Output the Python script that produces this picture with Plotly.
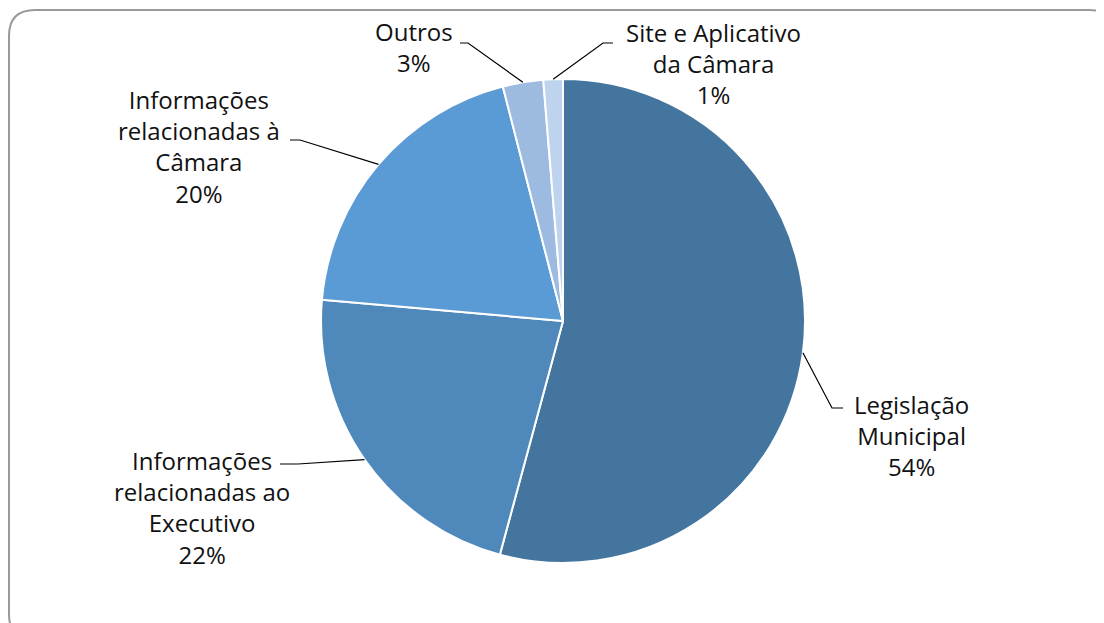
import math
import plotly.graph_objects as go

OFF = 8  # page body margin
W, H = 1104 - OFF, 623 - OFF

# Data
categories = ["Legislação<br>Municipal", "Informações<br>relacionadas ao<br>Executivo",
              "Informações<br>relacionadas à<br>Câmara", "Outros", "Site e Aplicativo<br>da Câmara"]
values = [54.2, 22.2, 19.6, 2.7, 1.3]
pct_labels = ["54%", "22%", "20%", "3%", "1%"]
colors = ["#44759f", "#4f89bc", "#5b9bd5", "#9dbbe1", "#bdd3ee"]

# Layout (screen pixel positions)
cx, cy, r = 563, 321, 242
label_pos = [(911, 435), (202, 507), (199, 146), (414, 47), (713, 63)]
elbows = [((832, 408), (843, 408)), ((298, 464), (280, 464)), ((300, 140), (290, 140)),
          ((468, 43), (460, 43)), ((603, 43), (613, 43))]

def px(x):
    return (x - OFF) / W

def py(y):
    return 1 - (y - OFF) / H

fig = go.Figure(go.Pie(
    labels=categories, values=values, sort=False, direction="clockwise", rotation=0,
    marker=dict(colors=colors, line=dict(color="white", width=2)),
    textinfo="none", hoverinfo="label+percent", showlegend=False,
    domain=dict(x=[px(cx - r), px(cx + r)], y=[py(cy + r), py(cy - r)]),
))

shapes = []
# rounded border
x0, y0, x1, y1, rc = 9, 10, 1115, 640, 26
path = (f"M {px(x0)},{py(y0 + rc)} Q {px(x0)},{py(y0)} {px(x0 + rc)},{py(y0)} "
        f"L {px(x1 - rc)},{py(y0)} Q {px(x1)},{py(y0)} {px(x1)},{py(y0 + rc)} "
        f"L {px(x1)},{py(y1 - rc)} Q {px(x1)},{py(y1)} {px(x1 - rc)},{py(y1)} "
        f"L {px(x0 + rc)},{py(y1)} Q {px(x0)},{py(y1)} {px(x0)},{py(y1 - rc)} Z")
shapes.append(dict(type="path", xref="paper", yref="paper", path=path,
                   line=dict(color="#9a9a9a", width=2), layer="below"))

total = sum(values)
cum = 0
annotations = []
for i, v in enumerate(values):
    mid = (cum + v / 2) / total * 2 * math.pi
    cum += v
    ex = cx + r * math.sin(mid)
    ey = cy - r * math.cos(mid)
    (bx, by), (tx, ty) = elbows[i]
    shapes.append(dict(type="path", xref="paper", yref="paper",
                       path=f"M {px(ex)},{py(ey)} L {px(bx)},{py(by)} L {px(tx)},{py(ty)}",
                       line=dict(color="black", width=1.2)))
    lx, ly = label_pos[i]
    annotations.append(dict(x=px(lx), y=py(ly), xref="paper", yref="paper",
                            text=f"{categories[i]}<br>{pct_labels[i]}", showarrow=False,
                            xanchor="center", yanchor="middle", align="center",
                            font=dict(family="Open Sans, sans-serif", size=24, color="#111111")))

fig.update_layout(width=W, height=H, margin=dict(l=0, r=0, t=0, b=0),
                  paper_bgcolor="white", plot_bgcolor="white",
                  shapes=shapes, annotations=annotations)

fig.write_html("out.html")
